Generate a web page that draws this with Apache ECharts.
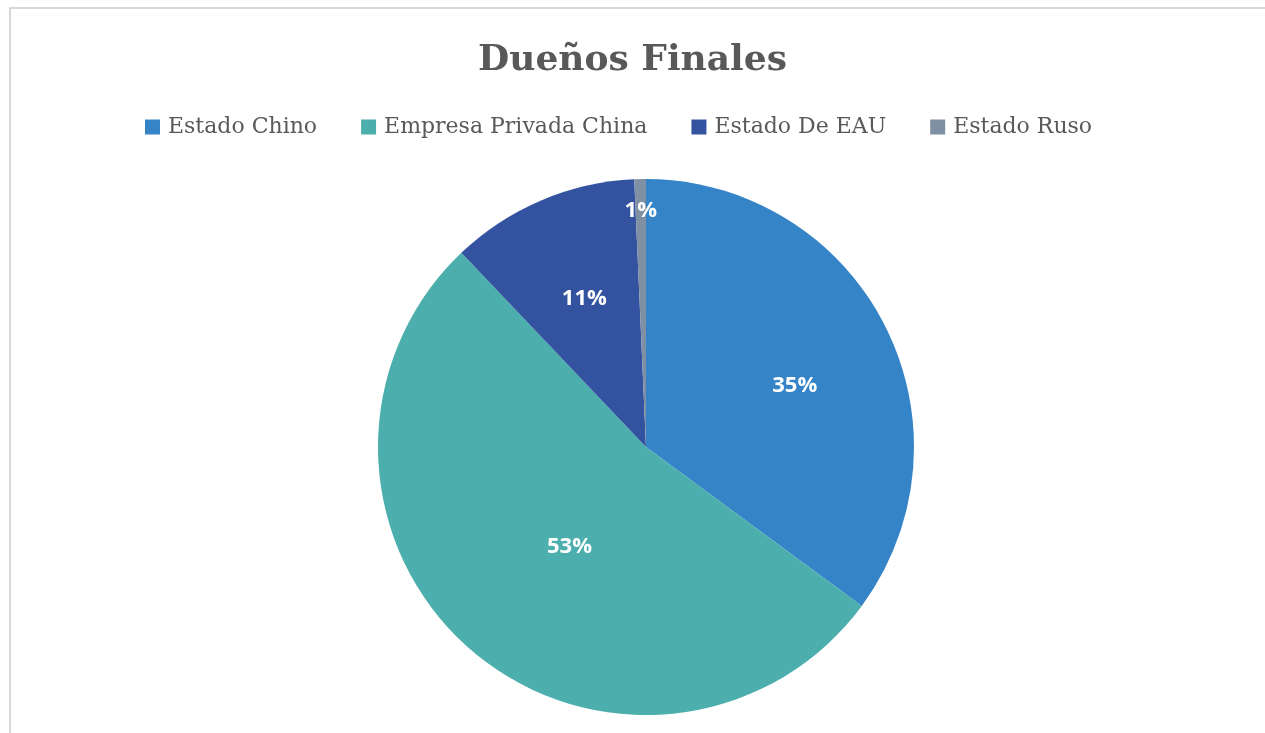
<!DOCTYPE html>
<html>
<head>
<meta charset="utf-8">
<script src="https://cdn.jsdelivr.net/npm/echarts@6/dist/echarts.min.js"></script>
<style>
  html, body { margin: 0; padding: 0; background: #fff; }
  #main { width: 1265px; height: 733px; }
</style>
</head>
<body>
<div id="main"></div>
<script>
const categories = ["Estado Chino", "Empresa Privada China", "Estado De EAU", "Estado Ruso"];
const shares = [35.1, 52.8, 11.4, 0.7];
const labels = ["35%", "53%", "11%", "1%"];

const colors = ["#3584c7", "#4dafad", "#3353a0", "#7f8fa4"];
// label placement: fraction of radius, and a small turn (degrees) off the slice middle
const labelRadius = [0.6, 0.47, 0.6, 0.88];
const labelTurn = [4.5, -4, 0.5, 0];

const center = [646, 447];
const radius = 268;

const chart = echarts.init(document.getElementById("main"));

const total = shares.reduce((a, b) => a + b, 0);
const midAngles = [];
let acc = 0;
shares.forEach((v) => {
  midAngles.push(((acc + v / 2) / total) * Math.PI * 2);
  acc += v;
});

const serif = "DejaVu Serif";

chart.setOption({
  animation: false,
  graphic: [
    {
      type: "rect",
      shape: { x: 10, y: 8, width: 1400, height: 900 },
      style: { fill: "none", stroke: "#d9d9d9", lineWidth: 2 },
      silent: true,
    },
  ],
  title: {
    text: "Dueños Finales",
    left: "center",
    top: 38,
    textStyle: {
      fontFamily: serif,
      fontWeight: "bold",
      fontSize: 36,
      color: "#595959",
    },
  },
  legend: {
    top: 111,
    left: 140,
    itemWidth: 15,
    itemHeight: 15,
    itemGap: 44,
    icon: "rect",
    textStyle: {
      fontFamily: serif,
      fontSize: 22,
      color: "#595959",
      padding: [0, 0, 0, 3],
    },
    data: categories,
  },
  series: [
    {
      type: "pie",
      center: center,
      radius: radius,
      startAngle: 90,
      clockwise: true,
      avoidLabelOverlap: false,
      itemStyle: { borderWidth: 0 },
      label: {
        show: true,
        position: "inside",
        formatter: (p) => labels[p.dataIndex],
        color: "#ffffff",
        fontFamily: "Open Sans",
        fontWeight: "bold",
        fontSize: 22,
      },
      labelLine: { show: false },
      labelLayout: (p) => {
        const i = p.dataIndex;
        const a = midAngles[i] + (labelTurn[i] * Math.PI) / 180;
        const d = radius * labelRadius[i];
        return {
          x: center[0] + Math.sin(a) * d,
          y: center[1] - Math.cos(a) * d,
          align: "center",
          verticalAlign: "middle",
        };
      },
      data: categories.map((name, i) => ({
        name: name,
        value: shares[i],
        itemStyle: { color: colors[i] },
      })),
    },
  ],
});
</script>
</body>
</html>
